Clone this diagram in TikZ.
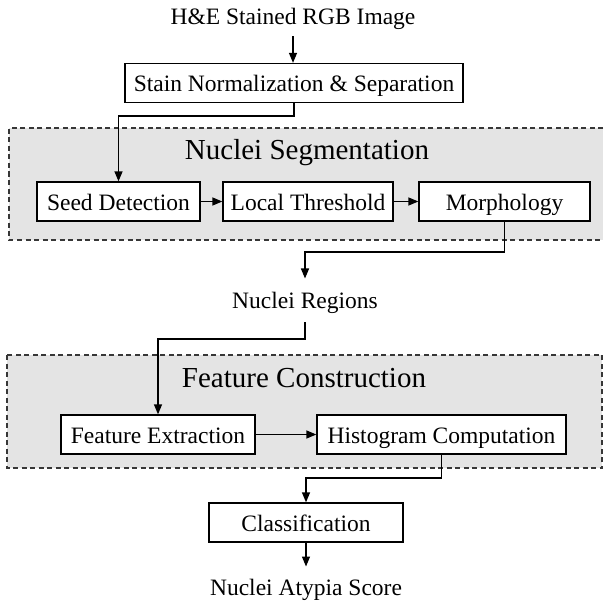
\documentclass[tikz,border=0pt]{standalone}
\usepackage{fontspec}
\setmainfont{Liberation Serif}
\usetikzlibrary{arrows.meta,calc}
\definecolor{panelc}{RGB}{228,228,228}
\definecolor{dashc}{RGB}{55,55,55}
\begin{document}
\begin{tikzpicture}[x=1pt,y=-1pt,
  box/.style={draw=black, line width=1.3pt, fill=white, minimum height=39pt, inner sep=0pt, text height=17pt, text depth=0pt, font=\fontsize{23.5}{28}\selectfont},
  lbl/.style={inner sep=0pt, anchor=base, font=\fontsize{23.5}{28}\selectfont},
  ttl/.style={inner sep=0pt, anchor=base, font=\fontsize{29}{34}\selectfont},
  arr/.style={line width=1.3pt, -{Triangle[length=10pt,width=8pt]}},
  dashb/.style={draw=dashc, line width=1.2pt, dash pattern=on 5pt off 3.5pt}]
\useasboundingbox (0,0) rectangle (603,604);
% panels
\fill[panelc] (9,128) rectangle (603,240);
\draw[dashb] (603,128) -- (9,128) -- (9,240) -- (603,240);
\fill[panelc] (7,355) rectangle (602,468);
\draw[dashb] (7,355) rectangle (602,468);
% nodes
\node[lbl] (src) at (293,25) {H\&E Stained RGB Image};
\node[box, minimum width=338pt] (stain) at (294,83) {Stain Normalization \& Separation};
\node[ttl] (t1) at (307,160) {Nuclei Segmentation};
\node[box, minimum width=163pt] (seed) at (118.5,201.5) {Seed Detection};
\node[box, minimum width=170pt] (local) at (308,201.5) {Local Threshold};
\node[box, minimum width=171pt] (morph) at (504.5,201.5) {Morphology};
\node[lbl] (nr) at (305,308) {Nuclei Regions};
\node[ttl] (t2) at (304,387) {Feature Construction};
\node[box, minimum width=194pt] (fe) at (158,434.5) {Feature Extraction};
\node[box, minimum width=249pt] (hc) at (441.5,434.5) {Histogram Computation};
\node[box, minimum width=194pt] (cls) at (306,522.5) {Classification};
\node[lbl] (out) at (306,595) {Nuclei Atypia Score};
% bend levels
\coordinate (k1) at (0,116);
\coordinate (k2) at (0,252);
\coordinate (k3) at (0,339);
\coordinate (k4) at (0,478);
% connectors
\draw[arr, shorten <=6pt] (src.south) -- (src.south |- stain.north);
\draw[arr] (stain.south) -- (stain.south |- k1) -| (seed.north);
\draw[arr] (seed.east) -- (local.west);
\draw[arr] (local.east) -- (morph.west);
\draw[arr, shorten >=13pt] (morph.south) -- (morph.south |- k2) -| (nr.north);
\draw[arr, shorten <=9pt] (nr.south) -- (nr.south |- k3) -| (fe.north);
\draw[arr] (fe.east) -- (hc.west);
\draw[arr] (hc.south) -- (hc.south |- k4) -| (cls.north);
\draw[arr, shorten >=12pt] (cls.south) -- (out.north);
\end{tikzpicture}
\end{document}
